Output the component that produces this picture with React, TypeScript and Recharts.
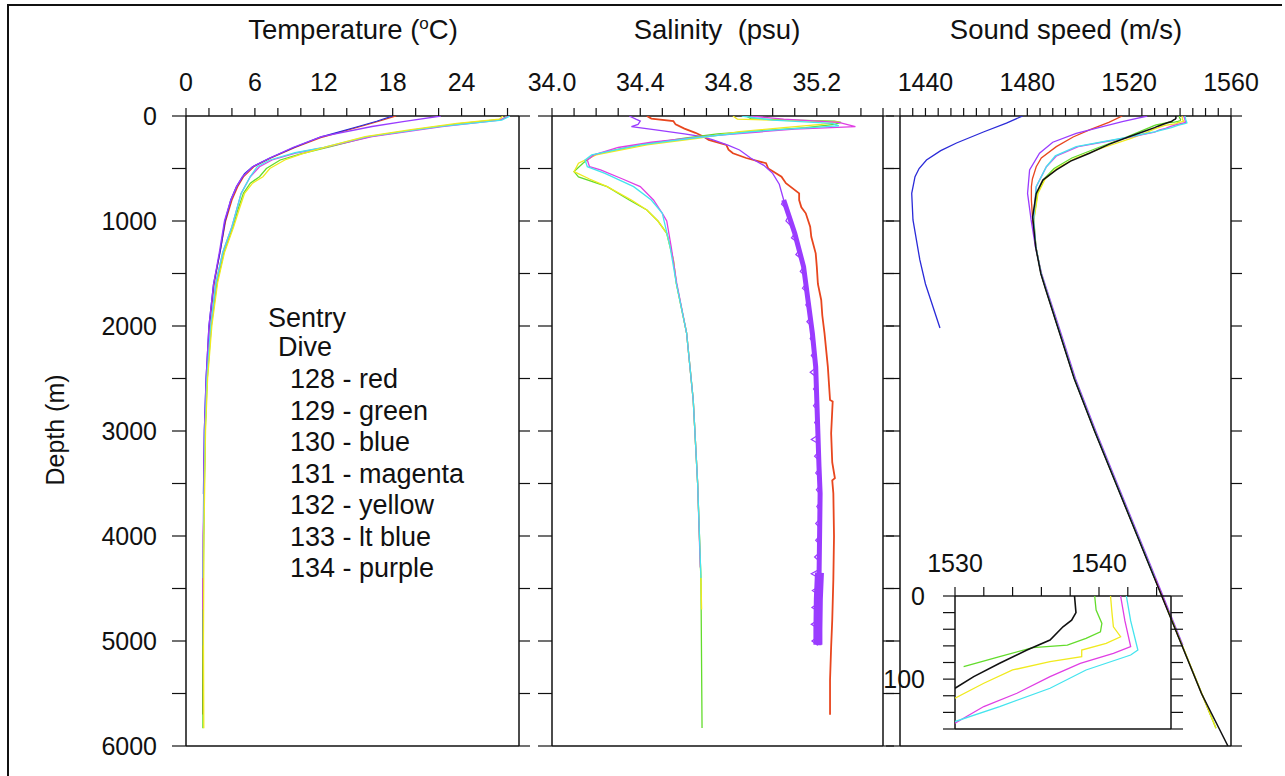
import React from "react";
import { Scatter, ScatterChart, XAxis, YAxis } from "recharts";

// profiles are [depth (m), value] pairs
type Profile = [number, number][];

const DIVES = ["128", "129", "130", "131", "132", "133", "134"];
const DIVE_COLOR_NAMES = ["red", "green", "blue", "magenta", "yellow", "lt blue", "purple"];

const RED = "#e8461e";
const GREEN = "#63dc2c";
const BLUE = "#2a2ad8";
const MAGENTA = "#e03ee4";
const YELLOW = "#f0ea1e";
const CYAN = "#44e4ee";
const PURPLE = "#9a3cff";
const BLACK = "#111111";

const DEPTH_MAJOR = [0, 1000, 2000, 3000, 4000, 5000, 6000];
const DEPTH_MINOR = [500, 1500, 2500, 3500, 4500, 5500];
const TEMP_MAJOR = [0, 6, 12, 18, 24];
const TEMP_MINOR = [2, 4, 8, 10, 14, 16, 20, 22, 26, 28];
const SAL_MAJOR = [34.0, 34.4, 34.8, 35.2];
const SAL_MINOR = [34.1, 34.2, 34.3, 34.5, 34.6, 34.7, 34.9, 35.0, 35.1, 35.3, 35.4, 35.5];
const SOUND_MAJOR = [1440, 1480, 1520, 1560];
const SOUND_MINOR = [1430, 1435, 1445, 1450, 1455, 1460, 1465, 1470, 1475, 1485, 1490, 1495, 1500, 1505, 1510, 1515, 1525, 1530, 1535, 1540, 1545, 1550, 1555];
const INSET_X_MAJOR = [1530, 1540];
const INSET_X_MINOR = [1532, 1534, 1536, 1538, 1542, 1544];
const INSET_Y_MAJOR = [0, 100];
const INSET_Y_MINOR = [20, 40, 60, 80, 120, 140, 160];

// ---- temperature (deg C)
const TEMP_128: Profile = [[0, 18.3], [50, 16.8], [100, 15.2], [200, 11.9], [300, 9.5], [400, 7.4], [483, 5.9], [580, 5.0], [673, 4.5], [800, 4.0], [1000, 3.45], [1300, 2.95], [1600, 2.45], [2000, 2.05], [2500, 1.8], [3000, 1.65], [4000, 1.52], [5000, 1.47], [5700, 1.45]];
const TEMP_129: Profile = [[0, 27.9], [30, 27.6], [70, 24.0], [130, 20.0], [197, 16.0], [295, 12.5], [360, 10.0], [419, 8.2], [500, 7.0], [578, 6.4], [640, 5.6], [737, 5.0], [900, 4.5], [1054, 4.1], [1300, 3.3], [1590, 2.7], [2000, 2.2], [2500, 1.85], [3000, 1.67], [4000, 1.53], [5000, 1.48], [5830, 1.47]];
const TEMP_130: Profile = [[0, 18.0], [50, 16.6], [100, 15.0], [200, 11.7], [300, 9.4], [400, 7.3], [483, 5.8], [550, 5.1], [673, 4.4], [800, 3.9], [1000, 3.4], [1276, 3.0], [1600, 2.4], [2000, 2.0], [2500, 1.75], [3000, 1.6], [3600, 1.52]];
const TEMP_131: Profile = [[0, 28.1], [40, 27.3], [100, 22.3], [197, 16.2], [298, 12.1], [350, 9.7], [419, 7.5], [483, 6.4], [578, 5.6], [737, 4.8], [1054, 4.0], [1300, 3.2], [1590, 2.6], [2000, 2.15], [2500, 1.82], [3000, 1.65], [4000, 1.52], [4700, 1.48]];
const TEMP_132: Profile = [[0, 27.6], [30, 27.3], [70, 23.6], [130, 19.6], [197, 15.6], [295, 12.2], [360, 10.1], [419, 8.6], [500, 7.3], [578, 6.7], [640, 5.8], [737, 5.1], [900, 4.6], [1054, 4.15], [1300, 3.35], [1590, 2.75], [2000, 2.25], [2500, 1.88], [3000, 1.7], [4000, 1.56], [5000, 1.52], [5830, 1.55]];
const TEMP_133: Profile = [[0, 28.2], [40, 27.5], [100, 22.0], [197, 15.8], [298, 12.0], [350, 9.5], [419, 7.3], [483, 6.2], [578, 5.6], [737, 4.8], [1054, 4.0], [1300, 3.2], [1590, 2.6], [2000, 2.15], [2500, 1.82], [3000, 1.66], [4000, 1.53], [4400, 1.5]];
const TEMP_134: Profile = [[0, 22.2], [54, 18.9], [100, 16.2], [197, 11.8], [300, 9.3], [400, 7.3], [483, 5.8], [580, 4.9], [673, 4.4], [800, 3.9], [1000, 3.35], [1300, 2.9], [1600, 2.4], [2000, 2.0], [2500, 1.75], [3000, 1.6], [4000, 1.5], [5040, 1.45]];

// ---- salinity (psu)
const SAL_128: Profile = [[0, 34.43], [25, 34.45], [48, 34.55], [80, 34.56], [120, 34.6], [160, 34.65], [200, 34.69], [228, 34.71], [276, 34.79], [320, 34.8], [355, 34.82], [400, 34.88], [450, 34.97], [500, 34.98], [578, 35.04], [640, 35.06], [737, 35.12], [800, 35.12], [870, 35.13], [927, 35.15], [1054, 35.17], [1150, 35.175], [1308, 35.195], [1435, 35.2], [1600, 35.205], [1752, 35.22], [1900, 35.225], [2070, 35.235], [2387, 35.25], [2705, 35.26], [2720, 35.272], [3022, 35.265], [3300, 35.27], [3450, 35.282], [3470, 35.27], [3594, 35.275], [4000, 35.278], [4413, 35.275], [4800, 35.27], [5054, 35.265], [5371, 35.26], [5702, 35.26]];
const SAL_129: Profile = [[0, 34.88], [25, 34.9], [40, 35.1], [50, 35.28], [60, 35.31], [80, 35.28], [110, 35.15], [140, 34.95], [170, 34.75], [212, 34.6], [276, 34.4], [330, 34.27], [371, 34.19], [450, 34.14], [530, 34.1], [580, 34.12], [673, 34.25], [800, 34.35], [895, 34.43], [1000, 34.48], [1117, 34.52], [1371, 34.55], [1590, 34.563], [2067, 34.61], [2705, 34.64], [3498, 34.66], [4419, 34.675], [5829, 34.68]];
const SAL_131: Profile = [[0, 34.9], [30, 35.05], [60, 35.3], [102, 35.375], [125, 35.1], [150, 34.95], [190, 34.72], [212, 34.62], [250, 34.45], [300, 34.3], [371, 34.19], [419, 34.16], [483, 34.17], [514, 34.22], [600, 34.32], [673, 34.4], [800, 34.46], [927, 34.5], [1000, 34.52], [1244, 34.54], [1590, 34.565], [2067, 34.61], [2705, 34.64], [3498, 34.66], [4300, 34.672]];
const SAL_132: Profile = [[0, 34.82], [30, 34.84], [45, 35.1], [55, 35.3], [80, 35.22], [110, 35.05], [150, 34.85], [212, 34.66], [276, 34.43], [371, 34.2], [450, 34.12], [530, 34.1], [600, 34.17], [673, 34.25], [800, 34.36], [895, 34.43], [1000, 34.48], [1117, 34.52], [1371, 34.55], [1590, 34.563], [2067, 34.61], [2705, 34.64], [3498, 34.66], [4419, 34.675], [4700, 34.678]];
const SAL_133: Profile = [[0, 34.86], [40, 35.0], [70, 35.27], [95, 35.3], [120, 35.1], [150, 34.9], [212, 34.63], [276, 34.4], [371, 34.18], [419, 34.15], [483, 34.16], [546, 34.24], [673, 34.37], [800, 34.45], [927, 34.5], [1244, 34.535], [1590, 34.563], [2067, 34.61], [2705, 34.64], [3498, 34.66], [4400, 34.675]];
const SAL_134_TOP: Profile = [[0, 34.35], [30, 34.38], [48, 34.4], [80, 34.39], [102, 34.36], [133, 34.47], [170, 34.6], [197, 34.68], [228, 34.73], [280, 34.8], [324, 34.85], [400, 34.9], [470, 34.96], [546, 35.0], [650, 35.03], [800, 35.05]];
// noisy deep part of dive 134: band centre, its wider bottom stretch and the spikes on its left
const SAL_134_BAND: Profile = [[800, 35.05], [1117, 35.1], [1435, 35.14], [1752, 35.16], [2070, 35.18], [2387, 35.195], [2705, 35.2], [3022, 35.205], [3340, 35.21], [3594, 35.215], [3937, 35.213], [4413, 35.21], [4890, 35.21], [5040, 35.21]];
const SAL_134_WIDE: Profile = [[4350, 35.212], [4600, 35.207], [4890, 35.205], [5036, 35.205]];
const SAL_134_SPIKES: Profile = [[800, 35.05], [840, 35.04], [880, 35.06], [960, 35.07], [1000, 35.06], [1040, 35.08], [1120, 35.1], [1160, 35.085], [1200, 35.11], [1280, 35.12], [1320, 35.105], [1360, 35.13], [1440, 35.14], [1480, 35.125], [1520, 35.145], [1600, 35.15], [1640, 35.135], [1680, 35.155], [1760, 35.16], [1800, 35.15], [1840, 35.165], [1920, 35.17], [1960, 35.155], [2000, 35.175], [2080, 35.18], [2120, 35.17], [2160, 35.185], [2240, 35.19], [2280, 35.175], [2320, 35.19], [2400, 35.195], [2440, 35.17], [2480, 35.195], [2560, 35.2], [2600, 35.185], [2640, 35.2], [2720, 35.2], [2760, 35.185], [2800, 35.203], [2880, 35.205], [2920, 35.19], [2960, 35.205], [3040, 35.205], [3080, 35.175], [3120, 35.207], [3200, 35.208], [3240, 35.19], [3280, 35.21], [3360, 35.21], [3400, 35.195], [3440, 35.212], [3520, 35.214], [3560, 35.198], [3600, 35.215], [3680, 35.214], [3720, 35.2], [3760, 35.214], [3840, 35.213], [3880, 35.195], [3920, 35.213], [4000, 35.213], [4040, 35.195], [4080, 35.212], [4160, 35.212], [4200, 35.19], [4240, 35.212], [4320, 35.21], [4360, 35.175], [4400, 35.21], [4480, 35.21], [4520, 35.18], [4560, 35.208], [4640, 35.207], [4680, 35.178], [4720, 35.207], [4800, 35.206], [4840, 35.175], [4880, 35.205], [4960, 35.205], [5000, 35.178], [5040, 35.205]];

// ---- sound speed (m/s)
const SOUND_128: Profile = [[0, 1517.3], [60, 1512], [133, 1504.4], [200, 1498], [292, 1491.4], [400, 1485.5], [483, 1483.5], [600, 1482], [673, 1481.6], [800, 1481.6], [990, 1482.1], [1250, 1483.4], [1500, 1485.4], [1650, 1487.3], [2000, 1491.9], [2500, 1498.5], [3000, 1506.5], [3500, 1514.9], [4000, 1523.3], [4500, 1531.7], [5000, 1540.1], [5500, 1548.5], [5700, 1551.9]];
const SOUND_129: Profile = [[0, 1539.7], [17, 1539.8], [33, 1540.2], [43, 1540.1], [51, 1539.1], [59, 1537.8], [62, 1535.4], [73, 1533.1], [85, 1530.6], [92, 1529.8], [120, 1527], [200, 1519], [300, 1508], [400, 1497.5], [500, 1490.5], [600, 1486.5], [737, 1484], [990, 1482.5], [1250, 1483.4], [1500, 1485.4], [1650, 1487.3], [2000, 1491.9], [2500, 1498.5], [3000, 1506.5], [3500, 1514.9], [4000, 1523.3], [4500, 1531.7], [5000, 1540.1], [5500, 1548.5], [5830, 1554.1]];
const SOUND_130: Profile = [[0, 1478.2], [67, 1471.8], [150, 1463], [257, 1452.2], [330, 1446], [419, 1440.4], [500, 1437.5], [578, 1435.9], [737, 1434.6], [990, 1435.1], [1371, 1437.8], [1600, 1440], [2019, 1445.7]];
const SOUND_131: Profile = [[0, 1541.5], [30, 1541.8], [61, 1542.2], [69, 1541.0], [81, 1538.7], [97, 1536.6], [117, 1534.3], [133, 1532.0], [153, 1530.0], [212, 1518], [292, 1500], [380, 1491.5], [483, 1487.5], [673, 1483.5], [990, 1482.4], [1250, 1483.4], [1500, 1485.4], [1650, 1487.3], [2000, 1491.9], [2500, 1498.5], [3000, 1506.5], [3500, 1514.9], [4000, 1523.3], [4700, 1535.1]];
const SOUND_132: Profile = [[0, 1540.8], [20, 1540.9], [37, 1541.0], [49, 1541.5], [57, 1540.5], [65, 1538.8], [73, 1538.8], [79, 1536.6], [89, 1534.0], [105, 1532.0], [123, 1530.0], [160, 1526.5], [210, 1521], [300, 1510], [400, 1499], [500, 1491.5], [600, 1487], [737, 1484.2], [990, 1482.6], [1250, 1483.4], [1500, 1485.4], [1650, 1487.3], [2000, 1491.9], [2500, 1498.5], [3000, 1506.5], [3500, 1514.9], [4000, 1523.3], [4500, 1531.7], [5000, 1540.1], [5500, 1548.5], [5830, 1554.1]];
const SOUND_133: Profile = [[0, 1541.9], [30, 1542.2], [65, 1542.7], [71, 1542.2], [89, 1539.1], [111, 1536.6], [133, 1533.1], [151, 1530.0], [212, 1517.3], [292, 1499.2], [380, 1491], [483, 1487.5], [673, 1483.5], [990, 1482.5], [1250, 1483.4], [1500, 1485.4], [1650, 1487.3], [2000, 1491.9], [2500, 1498.5], [3000, 1506.5], [3500, 1514.9], [4000, 1523.3], [4400, 1530.0]];
const SOUND_134: Profile = [[0, 1527.1], [54, 1517.3], [165, 1499.2], [250, 1490], [355, 1484.8], [514, 1480.9], [737, 1480.1], [990, 1481.5], [1250, 1483.2], [1500, 1485.6], [1650, 1487.6], [2000, 1492.3], [2500, 1498.9], [3000, 1506.9], [3500, 1515.3], [4000, 1523.7], [4500, 1532.1], [5040, 1541.1]];
const SOUND_BLACK: Profile = [[0, 1538.3], [20, 1538.4], [29, 1538.1], [37, 1537.5], [53, 1536.6], [65, 1535.0], [81, 1533.1], [97, 1531.3], [111, 1530.0], [150, 1525.5], [197, 1519.9], [270, 1512], [355, 1504.4], [430, 1497], [514, 1491.4], [610, 1486.1], [737, 1483.5], [960, 1482.1], [1250, 1483.3], [1500, 1485.3], [1650, 1487.2], [2000, 1491.8], [2500, 1498.4], [3000, 1506.4], [3500, 1514.8], [4000, 1523.2], [4500, 1531.6], [5000, 1540.0], [5500, 1548.4], [6000, 1558.8]];

type Series = { color: string; data: Profile; width?: number };

const TEMP_SERIES: Series[] = [
  { color: RED, data: TEMP_128 },
  { color: BLUE, data: TEMP_130 },
  { color: PURPLE, data: TEMP_134 },
  { color: GREEN, data: TEMP_129 },
  { color: MAGENTA, data: TEMP_131 },
  { color: CYAN, data: TEMP_133 },
  { color: YELLOW, data: TEMP_132 },
];
const SAL_SERIES: Series[] = [
  { color: RED, data: SAL_128, width: 1.8 },
  { color: PURPLE, data: SAL_134_TOP },
  { color: PURPLE, data: SAL_134_BAND, width: 5 },
  { color: PURPLE, data: SAL_134_WIDE, width: 9 },
  { color: PURPLE, data: SAL_134_SPIKES, width: 1.2 },
  { color: GREEN, data: SAL_129 },
  { color: YELLOW, data: SAL_132 },
  { color: MAGENTA, data: SAL_131 },
  { color: CYAN, data: SAL_133 },
];
const SOUND_SERIES: Series[] = [
  { color: BLUE, data: SOUND_130 },
  { color: RED, data: SOUND_128 },
  { color: PURPLE, data: SOUND_134 },
  { color: GREEN, data: SOUND_129 },
  { color: YELLOW, data: SOUND_132 },
  { color: MAGENTA, data: SOUND_131 },
  { color: CYAN, data: SOUND_133 },
  { color: BLACK, data: SOUND_BLACK, width: 1.5 },
];

const FONT = '"Liberation Sans", Arial, Helvetica, sans-serif';
const AXIS = { stroke: "#111", strokeWidth: 1.5 };
const TICK_LINE = { stroke: "#111", strokeWidth: 1.2 };
const TICK_TEXT = { fontSize: 25, fill: "#111", fontFamily: FONT };

const PLOT_TOP = 116;
const PLOT_BOTTOM = 746;
const H = 776;

const toPoints = (p: Profile) => p.map(([d, x]) => ({ x, d }));
const NoDot = () => <g />;
const has = (list: number[], v: number) => list.some((m) => Math.abs(m - v) < 1e-6);

type PanelProps = {
  x0: number;
  width: number;
  plotL: number;
  plotR: number;
  domain: [number, number];
  major: number[];
  minor: number[];
  fmt: (v: number) => string;
  series: Series[];
  depthLabels?: boolean;
};

function ProfilePanel({ x0, width, plotL, plotR, domain, major, minor, fmt, series, depthLabels }: PanelProps) {
  const leftW = depthLabels ? 100 : 20;
  const margin = {
    top: PLOT_TOP - 60,
    bottom: H - PLOT_BOTTOM - 12,
    left: plotL - x0 - leftW,
    right: x0 + width - plotR - 14,
  };
  const xt = [...major, ...minor];
  const yt = [...DEPTH_MAJOR, ...DEPTH_MINOR];
  return (
    <div style={{ position: "absolute", left: x0, top: 0 }}>
      <ScatterChart width={width} height={H} margin={margin}>
        <XAxis xAxisId="t" orientation="top" type="number" dataKey="x" domain={domain} allowDataOverflow
          ticks={xt} interval={0} tickFormatter={(v: number) => (has(major, v) ? fmt(v) : "")}
          height={60} tickSize={8} tickMargin={17} axisLine={AXIS} tickLine={TICK_LINE} tick={TICK_TEXT} />
        <XAxis xAxisId="b" orientation="bottom" type="number" domain={domain} allowDataOverflow
          ticks={xt} interval={0} tickFormatter={() => ""} height={12} tickSize={8}
          axisLine={AXIS} tickLine={TICK_LINE} tick={TICK_TEXT} />
        <YAxis yAxisId="l" type="number" dataKey="d" reversed domain={[0, 6000]} allowDataOverflow
          ticks={yt} interval={0} tickFormatter={(v: number) => (depthLabels && has(DEPTH_MAJOR, v) ? String(v) : "")}
          width={leftW} tickSize={14} tickMargin={15} axisLine={AXIS} tickLine={TICK_LINE} tick={TICK_TEXT} />
        <YAxis yAxisId="r" orientation="right" type="number" reversed domain={[0, 6000]} allowDataOverflow
          ticks={yt} interval={0} tickFormatter={() => ""} width={14} tickSize={11}
          axisLine={AXIS} tickLine={TICK_LINE} tick={TICK_TEXT} />
        {series.map((s, i) => (
          <Scatter key={i} xAxisId="t" yAxisId="l" data={toPoints(s.data)} fill={s.color}
            line={{ stroke: s.color, strokeWidth: s.width ?? 1.3 }} shape={NoDot} isAnimationActive={false} />
        ))}
      </ScatterChart>
    </div>
  );
}

// zoom of the top 160 m of the sound speed profiles
function SoundInset() {
  const x0 = 880;
  const y0 = 540;
  const w = 320;
  const h = 210;
  const margin = { top: 596 - y0 - 40, left: 955 - x0 - 40, right: x0 + w - 1171 - 14, bottom: y0 + h - 729 - 12 };
  const xt = [...INSET_X_MAJOR, ...INSET_X_MINOR];
  const yt = [...INSET_Y_MAJOR, ...INSET_Y_MINOR];
  const lines: Series[] = [
    { color: GREEN, data: SOUND_129 },
    { color: YELLOW, data: SOUND_132 },
    { color: MAGENTA, data: SOUND_131 },
    { color: CYAN, data: SOUND_133 },
    { color: BLACK, data: SOUND_BLACK, width: 1.6 },
  ];
  return (
    <div style={{ position: "absolute", left: x0, top: y0 }}>
      <ScatterChart width={w} height={h} margin={margin}>
        <XAxis xAxisId="t" orientation="top" type="number" dataKey="x" domain={[1530, 1545]} allowDataOverflow
          ticks={xt} interval={0} tickFormatter={(v: number) => (has(INSET_X_MAJOR, v) ? String(v) : "")}
          height={40} tickSize={9} tickMargin={15} axisLine={AXIS} tickLine={TICK_LINE} tick={TICK_TEXT} />
        <XAxis xAxisId="b" orientation="bottom" type="number" domain={[1530, 1545]} allowDataOverflow
          ticks={xt} interval={0} tickFormatter={() => ""} height={12} tickSize={9}
          axisLine={AXIS} tickLine={TICK_LINE} tick={TICK_TEXT} />
        <YAxis yAxisId="l" type="number" dataKey="d" reversed domain={[0, 160]} allowDataOverflow
          ticks={yt} interval={0} tickFormatter={(v: number) => (has(INSET_Y_MAJOR, v) ? String(v) : "")}
          width={40} tickSize={12} tickMargin={18} axisLine={AXIS} tickLine={TICK_LINE} tick={TICK_TEXT} />
        <YAxis yAxisId="r" orientation="right" type="number" reversed domain={[0, 160]} allowDataOverflow
          ticks={yt} interval={0} tickFormatter={() => ""} width={14} tickSize={12}
          axisLine={AXIS} tickLine={TICK_LINE} tick={TICK_TEXT} />
        {lines.map((s, i) => (
          <Scatter key={i} xAxisId="t" yAxisId="l"
            data={toPoints(s.data.filter(([d, c]) => d <= 160 && c >= 1530))} fill={s.color}
            line={{ stroke: s.color, strokeWidth: s.width ?? 1.3 }} shape={NoDot} isAnimationActive={false} />
        ))}
      </ScatterChart>
    </div>
  );
}

const textStyle: React.CSSProperties = {
  position: "absolute",
  fontFamily: FONT,
  fontSize: 27,
  lineHeight: "26px",
  color: "#111",
  whiteSpace: "nowrap",
};

function Title({ cx, cy, children }: { cx: number; cy: number; children: React.ReactNode }) {
  return <div style={{ ...textStyle, fontSize: 27.5, left: cx - 200, width: 400, top: cy - 13, textAlign: "center" }}>{children}</div>;
}

export default function App() {
  const legend = DIVES.map((d, i) => `${d} - ${DIVE_COLOR_NAMES[i]}`);
  return (
    <div style={{ position: "absolute", left: 0, top: 0, width: 1285, height: H, background: "#fff", overflow: "hidden" }}>
      <div style={{ position: "absolute", left: 7, top: 4, width: 1273, height: 800, borderTop: "2px solid #111", borderLeft: "2px solid #111" }} />

      <ProfilePanel x0={0} width={540} plotL={186} plotR={519} domain={[0, 29]}
        major={TEMP_MAJOR} minor={TEMP_MINOR} fmt={(v) => String(v)} series={TEMP_SERIES} depthLabels />
      <ProfilePanel x0={520} width={380} plotL={552} plotR={883} domain={[34.0, 35.5]}
        major={SAL_MAJOR} minor={SAL_MINOR} fmt={(v) => v.toFixed(1)} series={SAL_SERIES} />
      <ProfilePanel x0={870} width={400} plotL={900} plotR={1231} domain={[1430, 1560]}
        major={SOUND_MAJOR} minor={SOUND_MINOR} fmt={(v) => String(v)} series={SOUND_SERIES} />
      <SoundInset />

      <Title cx={353} cy={30}>
        Temperature (<span style={{ fontSize: 17, position: "relative", top: -10 }}>o</span>C)
      </Title>
      <Title cx={717} cy={30}>Salinity&nbsp; (psu)</Title>
      <Title cx={1066} cy={30}>Sound speed (m/s)</Title>

      <div style={{ ...textStyle, fontSize: 25, left: 55, top: 430, transform: "translate(-50%, -50%) rotate(-90deg)" }}>
        Depth (m)
      </div>

      <div style={{ ...textStyle, left: 268, top: 318 - 13 }}>Sentry</div>
      <div style={{ ...textStyle, left: 278, top: 347 - 13 }}>Dive</div>
      {legend.map((t, i) => (
        <div key={t} style={{ ...textStyle, left: 290, top: 379 + i * 31.5 - 13 }}>{t}</div>
      ))}
    </div>
  );
}
